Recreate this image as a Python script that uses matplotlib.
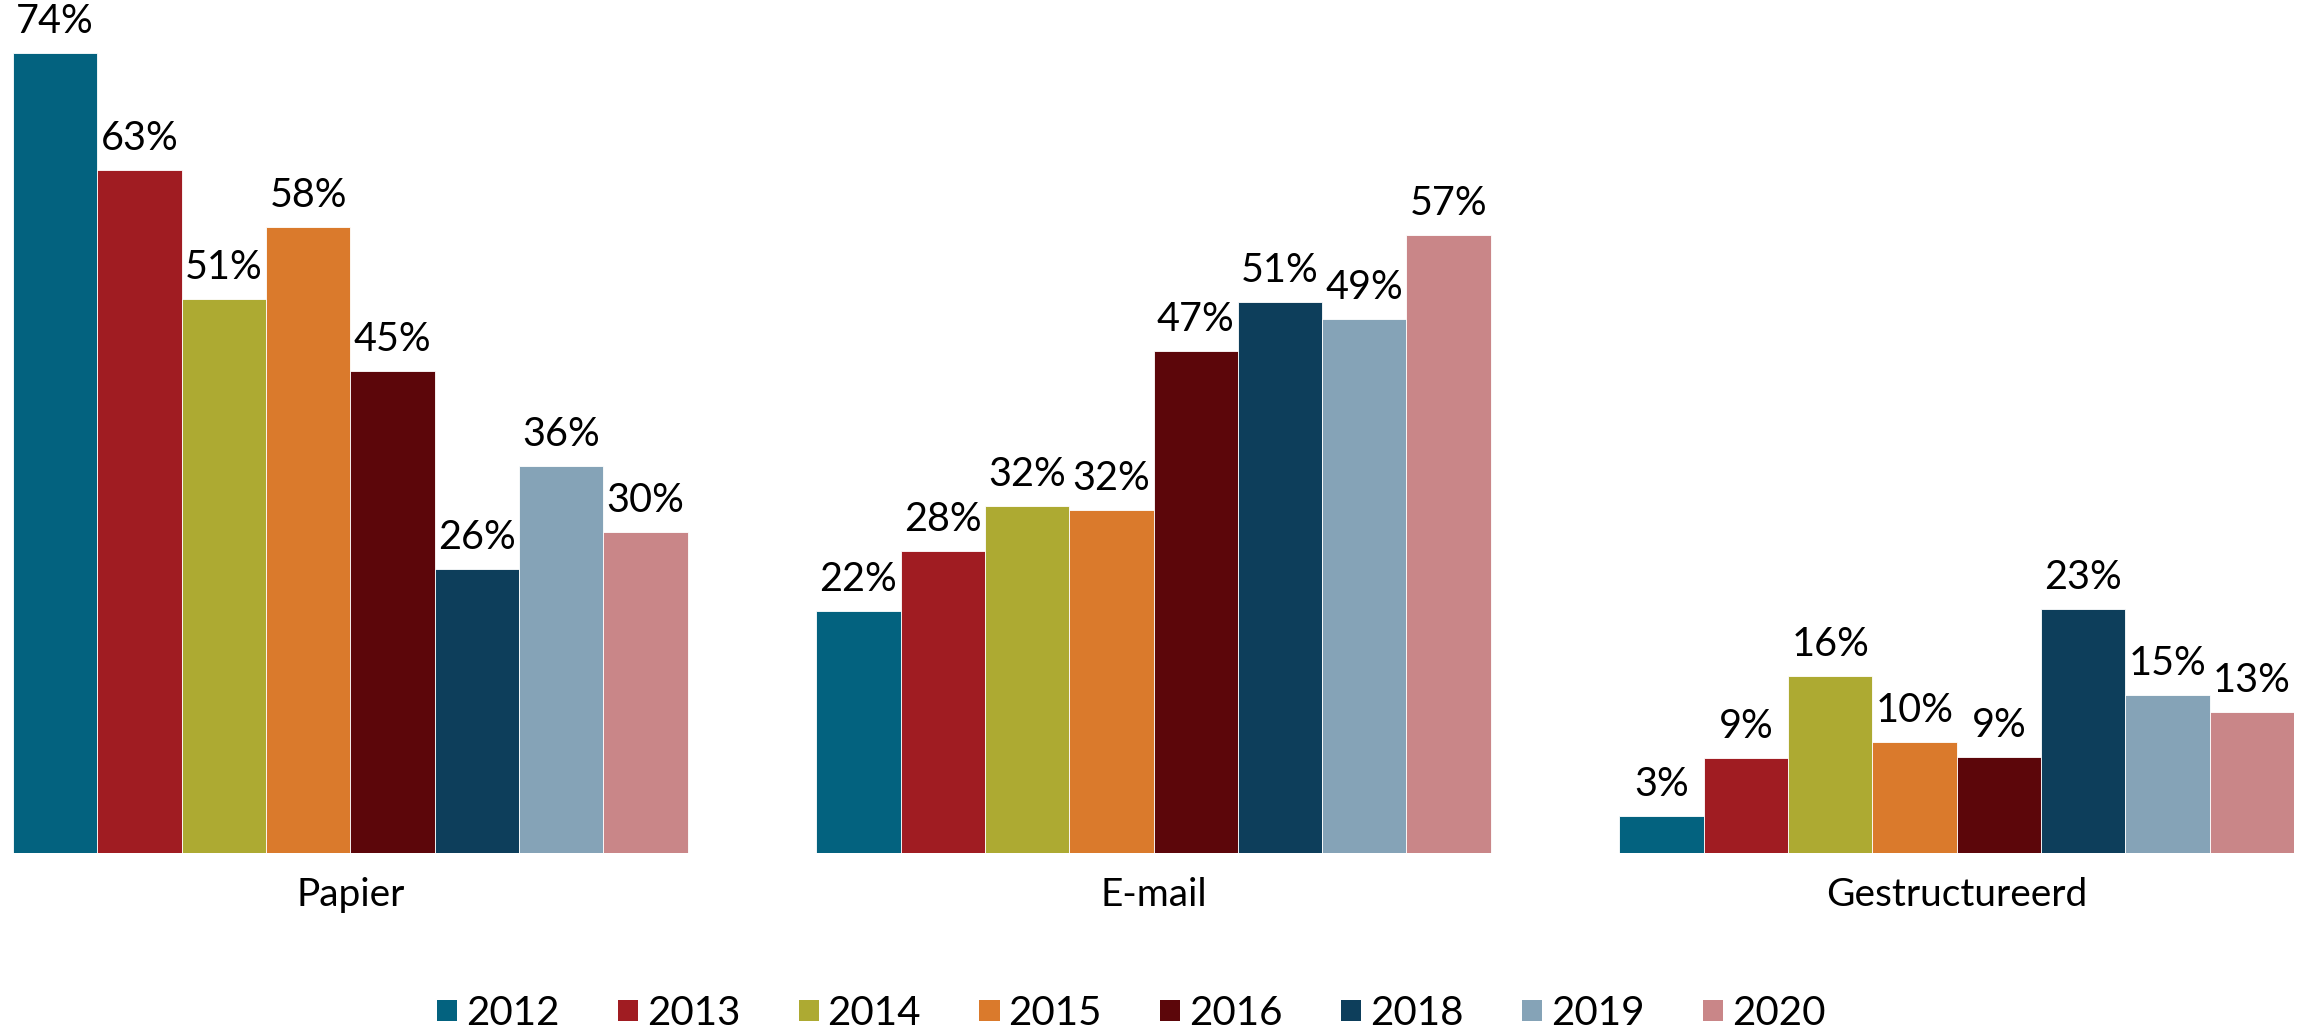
import matplotlib
matplotlib.use("Agg")
import matplotlib.pyplot as plt
import numpy as np
from matplotlib.patches import Patch

plt.rcParams["font.family"] = ["Lato", "DejaVu Sans"]

CATEGORIES = ["Papier", "E-mail", "Gestructureerd"]
YEARS = ["2012", "2013", "2014", "2015", "2016", "2018", "2019", "2020"]
COLORS = ["#03627F", "#A01C22", "#ADAA32", "#DA7A2C",
          "#5C060A", "#0D3E5B", "#85A3B7", "#C98688"]

# bar heights (%) per year, order: Papier, E-mail, Gestructureerd
VALUES = {
    "2012": [74.0, 22.4, 3.4],
    "2013": [63.2, 27.9, 8.8],
    "2014": [51.2, 32.1, 16.4],
    "2015": [57.9, 31.7, 10.3],
    "2016": [44.6, 46.4, 8.9],
    "2018": [26.3, 51.0, 22.6],
    "2019": [35.8, 49.4, 14.6],
    "2020": [29.7, 57.2, 13.0],
}
# printed labels
LABELS = {
    "2012": [74, 22, 3],
    "2013": [63, 28, 9],
    "2014": [51, 32, 16],
    "2015": [58, 32, 10],
    "2016": [45, 47, 9],
    "2018": [26, 51, 23],
    "2019": [36, 49, 15],
    "2020": [30, 57, 13],
}

W, H = 2318, 1030
fig = plt.figure(figsize=(W / 100, H / 100), dpi=100)
ax = fig.add_axes([13 / W, (H - 853) / H, (2294 - 13) / W, 853 / H])

x = np.arange(len(CATEGORIES))
group = 0.84
bw = group / len(YEARS)
for i, (yr, col) in enumerate(zip(YEARS, COLORS)):
    pos = x - group / 2 + bw * (i + 0.5)
    bars = ax.bar(pos, VALUES[yr], width=bw, color=col,
                  edgecolor="#ffffff", linewidth=0.6)
    for b, lab in zip(bars, LABELS[yr]):
        ax.annotate(f"{lab}%", xy=(b.get_x() + b.get_width() / 2, b.get_height()),
                    xytext=(0, 14.4), textcoords="offset points",
                    ha="center", va="baseline", fontsize=28.5)

ax.set_xlim(-group / 2, len(CATEGORIES) - 1 + group / 2)
ax.set_ylim(0, 78.9)
ax.set_xticks(x)
ax.set_xticklabels(CATEGORIES, fontsize=28)
ax.tick_params(axis="x", length=0, pad=17)
ax.set_yticks([])
for s in ax.spines.values():
    s.set_visible(False)

handles = [Patch(facecolor=c, edgecolor="none", label=y) for y, c in zip(YEARS, COLORS)]
fig.legend(handles=handles, loc="center", bbox_to_anchor=(0.488, 0.016),
           ncol=len(YEARS), frameon=False, fontsize=29, borderpad=0,
           handlelength=0.5, handleheight=0.45, handletextpad=0.22,
           columnspacing=1.45)

fig.savefig("out.png", dpi=100)
